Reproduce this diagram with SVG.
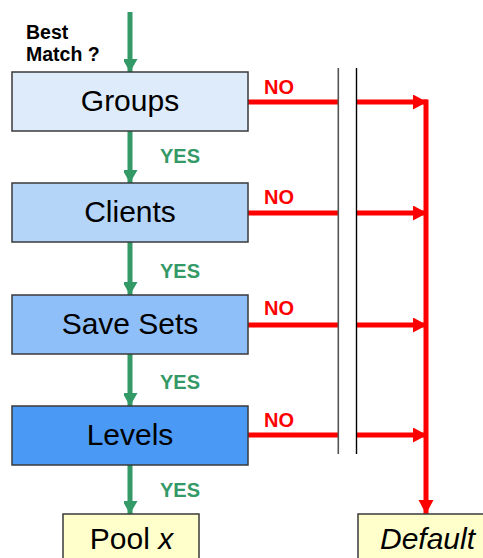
<svg xmlns="http://www.w3.org/2000/svg" width="483" height="558" viewBox="0 0 483 558">
<style>
.box{stroke:#3a3a3a;stroke-width:1.5}
.lbl{font-family:"Liberation Sans",Arial,sans-serif;font-size:30px;fill:#000;text-anchor:middle}
.yes{font-family:"Liberation Sans",Arial,sans-serif;font-size:20px;font-weight:bold;fill:#339966}
.no{font-family:"Liberation Sans",Arial,sans-serif;font-size:20px;font-weight:bold;fill:#ff0000}
.g{stroke:#339966;stroke-width:5;fill:none}
.r{stroke:#ff0000;stroke-width:5;fill:none}
</style>
<defs>
<marker id="ag" markerUnits="userSpaceOnUse" markerWidth="16" markerHeight="14" refX="13" refY="7.5" orient="auto">
<polygon points="0,0 13,7.5 0,15" fill="#339966"/>
</marker>
<marker id="ar" markerUnits="userSpaceOnUse" markerWidth="16" markerHeight="16" refX="14" refY="7.5" orient="auto">
<polygon points="0,0 14,7.5 0,15" fill="#ff0000"/>
</marker>
</defs>
<rect width="483" height="558" fill="#fff"/>
<text x="26" y="38.5" font-family="'Liberation Sans',Arial,sans-serif" font-size="19.5" font-weight="bold">Best</text>
<text x="26" y="61" font-family="'Liberation Sans',Arial,sans-serif" font-size="19.5" font-weight="bold">Match ?</text>
<g id="connectors">
<line class="g" x1="130" y1="12" x2="130" y2="72" marker-end="url(#ag)"/>
<line class="g" x1="130" y1="131" x2="130" y2="183" marker-end="url(#ag)"/>
<line class="g" x1="130" y1="242" x2="130" y2="295" marker-end="url(#ag)"/>
<line class="g" x1="130" y1="354" x2="130" y2="406" marker-end="url(#ag)"/>
<line class="g" x1="130" y1="465" x2="130" y2="514" marker-end="url(#ag)"/>
<text class="yes" x="160" y="162.5">YES</text>
<text class="yes" x="160" y="277.5">YES</text>
<text class="yes" x="160" y="388.5">YES</text>
<text class="yes" x="160" y="496.5">YES</text>
<line class="r" x1="248" y1="102" x2="338" y2="102"/>
<line class="r" x1="357" y1="102" x2="427" y2="102" marker-end="url(#ar)"/>
<line class="r" x1="248" y1="213" x2="338" y2="213"/>
<line class="r" x1="357" y1="213" x2="427" y2="213" marker-end="url(#ar)"/>
<line class="r" x1="248" y1="325" x2="338" y2="325"/>
<line class="r" x1="357" y1="325" x2="427" y2="325" marker-end="url(#ar)"/>
<line class="r" x1="248" y1="435" x2="338" y2="435"/>
<line class="r" x1="357" y1="435" x2="427" y2="435" marker-end="url(#ar)"/>
<line class="r" x1="426" y1="99.5" x2="426" y2="514" marker-end="url(#ar)"/>
<text class="no" x="264" y="93.5">NO</text>
<text class="no" x="264" y="204">NO</text>
<text class="no" x="264" y="315">NO</text>
<text class="no" x="264" y="427">NO</text>
<line x1="338.3" y1="68" x2="338.3" y2="454" stroke="#555" stroke-width="1.6"/>
<line x1="356.5" y1="68" x2="356.5" y2="454" stroke="#000" stroke-width="1.4"/>
</g>
<g id="groups">
<rect class="box" x="12" y="72" width="236" height="59" fill="#ddebfb"/>
<text class="lbl" x="130" y="111">Groups</text>
</g>
<g id="clients">
<rect class="box" x="12" y="183" width="236" height="59" fill="#b4d4f8"/>
<text class="lbl" x="130" y="222">Clients</text>
</g>
<g id="savesets">
<rect class="box" x="12" y="295" width="236" height="59" fill="#8fbff8"/>
<text class="lbl" x="130" y="333.5">Save Sets</text>
</g>
<g id="levels">
<rect class="box" x="12" y="406" width="236" height="59" fill="#4a99f5"/>
<text class="lbl" x="130" y="445">Levels</text>
</g>
<g id="pool">
<rect class="box" x="63" y="514" width="136" height="60" fill="#ffffcc"/>
<text class="lbl" x="131.5" y="548.5">Pool <tspan font-style="italic">x</tspan></text>
</g>
<g id="default">
<rect class="box" x="358" y="514" width="140" height="60" fill="#ffffcc"/>
<text class="lbl" x="427.5" y="548.5" font-style="italic">Default</text>
</g>
</svg>
